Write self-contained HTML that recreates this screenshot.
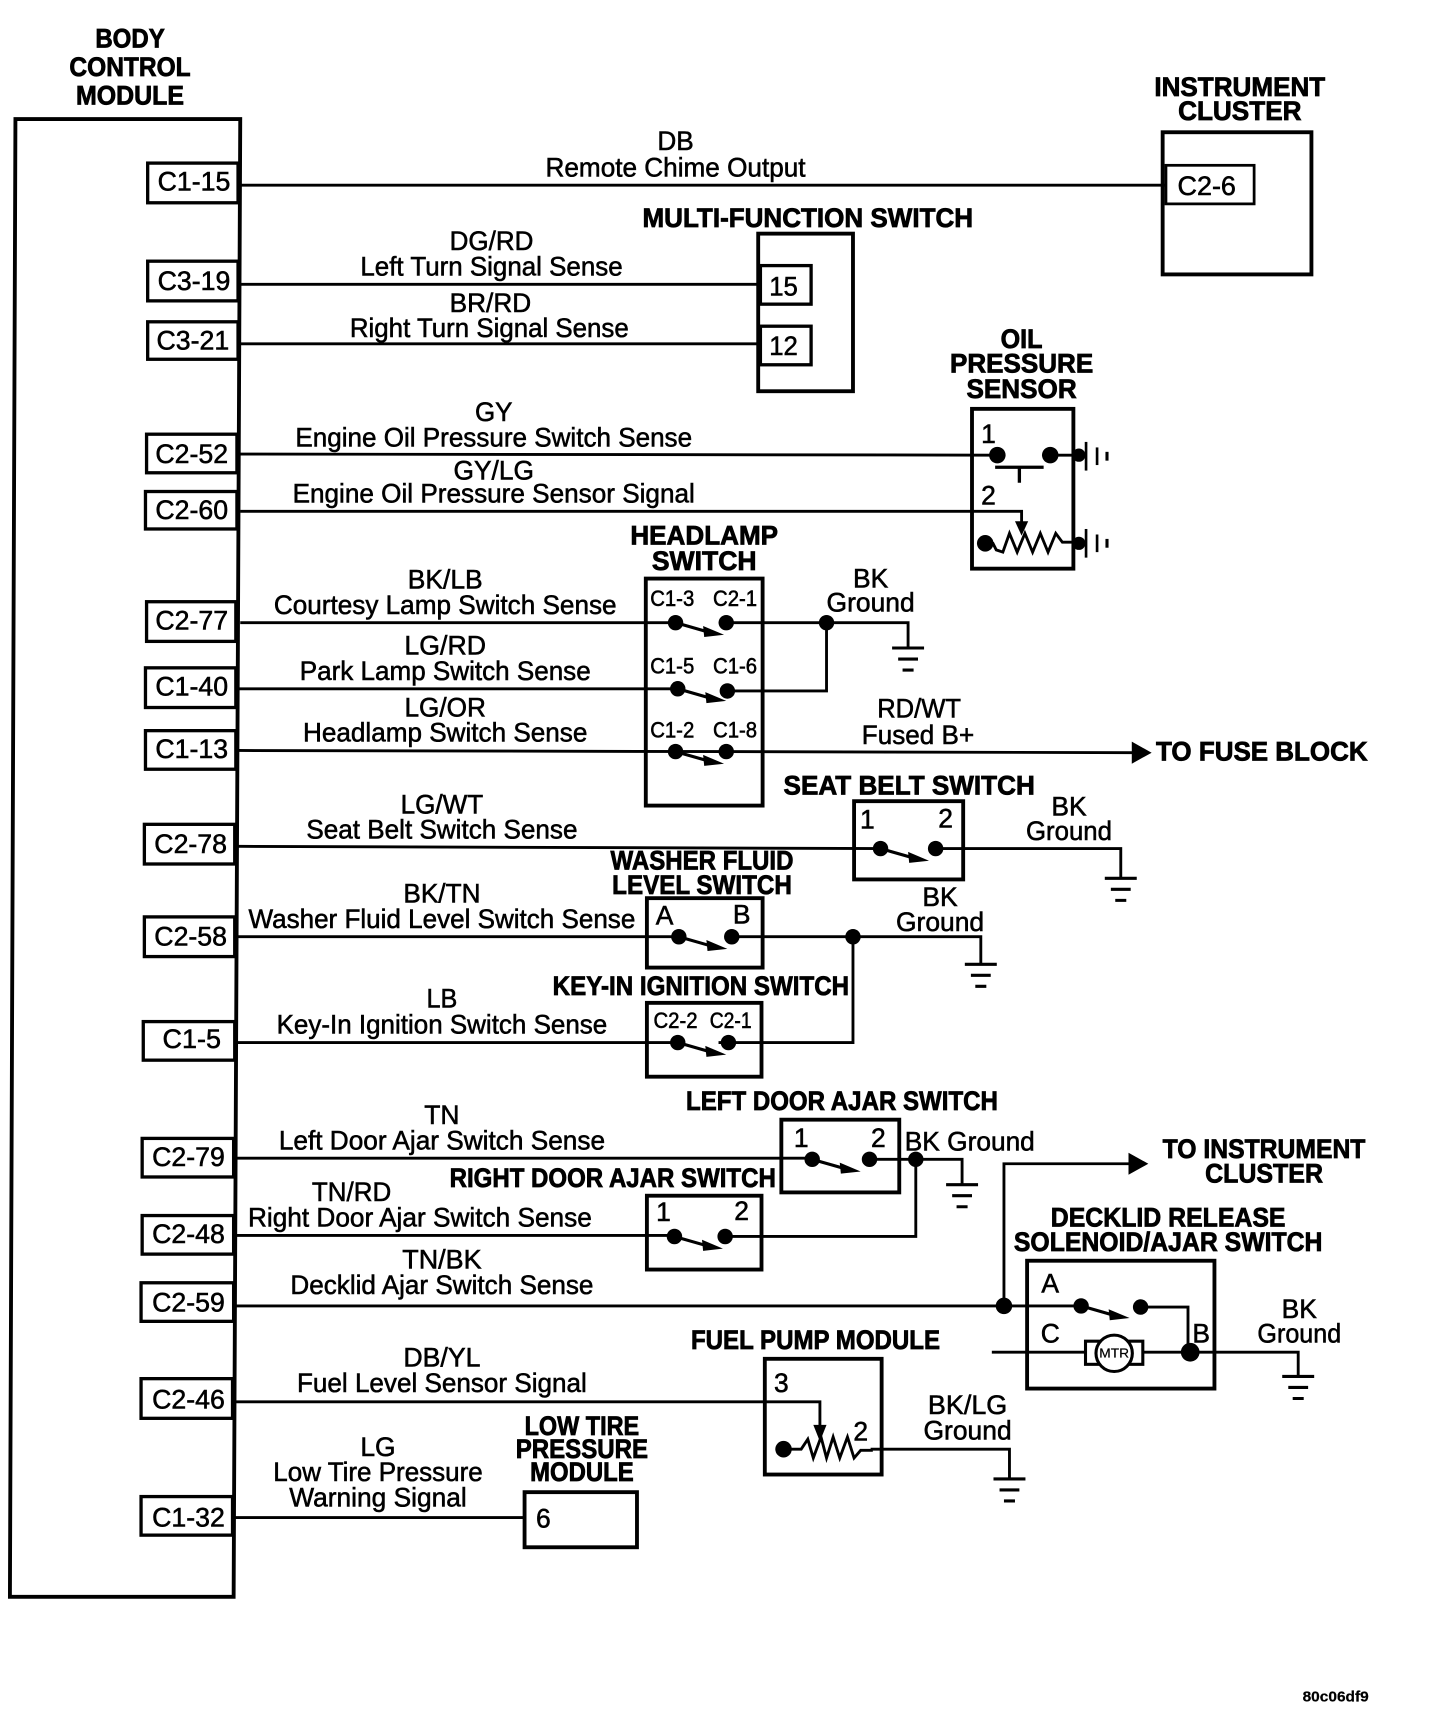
<!DOCTYPE html>
<html><head><meta charset="utf-8"><style>
html,body{margin:0;padding:0;background:#fff}
svg{display:block}
text{font-family:"Liberation Sans",sans-serif;font-size:24px;text-anchor:middle;fill:#000;stroke:#000;stroke-width:.5px}
.b{font-weight:bold;stroke-width:.7px}
.s{font-size:20px}
.m{font-size:12px;stroke-width:.2px}
.t{font-size:13px;font-weight:bold;stroke-width:.2px}
.w{fill:none;stroke:#000;stroke-width:2.6}
.x{fill:#fff;stroke:#000;stroke-width:3.5}
.d{fill:#000}
</style></head><body>
<svg xmlns="http://www.w3.org/2000/svg" width="1440" height="1728" viewBox="0 0 1306.67 1568">
<defs>
<g id="g"><path d="M-14.5 0H14.5M-9 10H9M-5 20H5" fill="none" stroke="#000" stroke-width="2.8"/></g>
<g id="a"><path d="M0 0L28 8" stroke="#000" stroke-width="2.8"/><path d="M25 3L44 11L26 13Z" fill="#000"/></g>
<g id="e"><path d="M0 -13V13" stroke="#000" stroke-width="2.4" fill="none"/><path d="M10 -8V8" stroke="#000" stroke-width="2.4"/><path d="M19 -4V4" stroke="#000" stroke-width="2.8"/></g>
</defs>

<path class="x" d="M14 108H218L212 1449H9Z"/>
<g class="w">
<path d="M218 168H1058M218 258H690M218 312H690"/>
<path d="M218 412L905 413M953 413H985M218 464H927V476"/>
<path d="M218 565H613M659 565H824V588M750 565V627H660"/>
<path d="M217 625H615M216 681L659 682L1030 683"/>
<path d="M216 768L799 770M849 770H1017V797"/>
<path d="M214 850H616M664 850H890V874M774 850V946H652M214 946H615"/>
<path d="M214 1051H737M789 1052H873V1075M831 1052V1122H658M214 1121H612"/>
<path d="M214 1185H981M911 1185V1056H1028M1035 1186H1078V1227"/>
<path d="M900 1227H985M1037 1227H1178V1248"/>
<path d="M214 1272H744V1296M790 1315H916V1342M213 1377H476"/>
</g>

<!-- connector boxes -->
<g class="x" style="stroke-width:3">
<rect x="134" y="148" width="82" height="36"/>
<rect x="134" y="237" width="82" height="36"/>
<rect x="134" y="292" width="82" height="34"/>
<rect x="133" y="394" width="82" height="35"/>
<rect x="132" y="446" width="83" height="34"/>
<rect x="133" y="546" width="81" height="36"/>
<rect x="132" y="606" width="82" height="36"/>
<rect x="132" y="663" width="82" height="35"/>
<rect x="131" y="748" width="82" height="36"/>
<rect x="131" y="832" width="82" height="36"/>
<rect x="130" y="927" width="83" height="35"/>
<rect x="129" y="1033" width="83" height="35"/>
<rect x="129" y="1103" width="83" height="35"/>
<rect x="128" y="1164" width="84" height="35"/>
<rect x="128" y="1251" width="83" height="36"/>
<rect x="128" y="1358" width="83" height="35"/>
</g>

<!-- component boxes -->
<g fill="none" stroke="#000" stroke-width="3.5">
<rect x="1055" y="120" width="135" height="129"/>
<rect x="1058" y="150" width="80" height="35" stroke-width="2.5"/>
<rect x="688" y="212" width="86" height="143"/>
<rect x="690" y="241" width="46" height="35" stroke-width="3"/>
<rect x="690" y="296" width="46" height="35" stroke-width="3"/>
<rect x="882" y="371" width="92" height="145"/>
<rect x="586" y="525" width="106" height="206"/>
<rect x="775" y="727" width="99" height="71"/>
<rect x="587" y="815" width="105" height="63"/>
<rect x="587" y="910" width="104" height="67"/>
<rect x="709" y="1016" width="107" height="66"/>
<rect x="587" y="1085" width="104" height="67"/>
<rect x="932" y="1144" width="170" height="116"/>
<rect x="694" y="1233" width="106" height="105"/>
<rect x="476" y="1354" width="102" height="50"/>
</g>

<!-- dots -->
<g class="d">
<circle cx="905" cy="413" r="7.5"/><circle cx="953" cy="413" r="7.5"/><circle cx="979" cy="413" r="6"/>
<circle cx="894" cy="493" r="7.5"/><circle cx="979" cy="493" r="6"/>
<circle cx="613" cy="565" r="7"/><circle cx="659" cy="565" r="7"/><circle cx="750" cy="565" r="7"/>
<circle cx="615" cy="625" r="7"/><circle cx="660" cy="627" r="7"/>
<circle cx="613" cy="682" r="7"/><circle cx="659" cy="682" r="7"/>
<circle cx="799" cy="770" r="7"/><circle cx="849" cy="770" r="7"/>
<circle cx="616" cy="850" r="7"/><circle cx="664" cy="850" r="7"/><circle cx="774" cy="850" r="7"/>
<circle cx="615" cy="946" r="7"/><circle cx="661" cy="946" r="7"/>
<circle cx="737" cy="1052" r="7"/><circle cx="789" cy="1052" r="7"/><circle cx="831" cy="1052" r="7"/>
<circle cx="612" cy="1122" r="7"/><circle cx="658" cy="1122" r="7"/>
<circle cx="911" cy="1185" r="7.5"/><circle cx="981" cy="1185" r="7"/><circle cx="1035" cy="1186" r="7"/><circle cx="1080" cy="1227" r="8.5"/>
<circle cx="711" cy="1315" r="7.5"/>
<path d="M1027 673L1045 683L1027 693Z"/>
<path d="M1024 1046L1042 1056L1024 1066Z"/>
<path d="M921 473H933L927 486Z"/>
<path d="M738 1293H750L744 1308Z"/>
</g>

<!-- switch arms -->
<use href="#a" x="613" y="565"/><use href="#a" x="615" y="625"/><use href="#a" x="613" y="682"/>
<use href="#a" x="799" y="770"/><use href="#a" x="616" y="850"/><use href="#a" x="615" y="946"/>
<use href="#a" x="737" y="1052"/><use href="#a" x="612" y="1122"/><use href="#a" x="981" y="1185"/>

<!-- grounds -->
<use href="#g" x="824" y="588"/><use href="#g" x="1017" y="797"/><use href="#g" x="890" y="875"/>
<use href="#g" x="873" y="1075"/><use href="#g" x="1178" y="1249"/><use href="#g" x="916" y="1342"/>
<use href="#e" x="985.5" y="414"/><use href="#e" x="985.5" y="493"/>

<!-- oil sensor detail -->
<path d="M903 424H947M925 424V438" fill="none" stroke="#000" stroke-width="3"/>
<path class="w" d="M894 493H901L904 499L910 501L916 484L923 501L930 484L937 501L944 484L951 501L958 484L964 492H975"/>
<!-- fuel resistor -->
<path class="w" d="M711 1315H727L733 1306L738 1323L745 1304L750 1323L756 1304L762 1323L769 1304L775 1323L781 1316H792"/>
<!-- motor -->
<rect x="985" y="1217" width="52" height="21" fill="#fff" stroke="#000" stroke-width="2.8"/>
<circle cx="1011" cy="1228" r="16.5" fill="#fff" stroke="#000" stroke-width="2.8"/>

<!-- titles -->
<text lengthAdjust="spacingAndGlyphs" class="b" x="118" y="43" textLength="63">BODY</text>
<text lengthAdjust="spacingAndGlyphs" class="b" x="118" y="69" textLength="110">CONTROL</text>
<text lengthAdjust="spacingAndGlyphs" class="b" x="118" y="95" textLength="98">MODULE</text>
<text lengthAdjust="spacingAndGlyphs" class="b" x="1125" y="87" textLength="155">INSTRUMENT</text>
<text lengthAdjust="spacingAndGlyphs" class="b" x="1125" y="109" textLength="112">CLUSTER</text>
<text lengthAdjust="spacingAndGlyphs" class="b" x="733" y="206" textLength="300">MULTI-FUNCTION SWITCH</text>
<text lengthAdjust="spacingAndGlyphs" class="b" x="927" y="316" textLength="38">OIL</text>
<text lengthAdjust="spacingAndGlyphs" class="b" x="927" y="338" textLength="130">PRESSURE</text>
<text lengthAdjust="spacingAndGlyphs" class="b" x="927" y="361" textLength="100">SENSOR</text>
<text lengthAdjust="spacingAndGlyphs" class="b" x="639" y="494" textLength="134">HEADLAMP</text>
<text lengthAdjust="spacingAndGlyphs" class="b" x="639" y="517" textLength="95">SWITCH</text>
<text lengthAdjust="spacingAndGlyphs" class="b" x="1145" y="690" textLength="192">TO FUSE BLOCK</text>
<text lengthAdjust="spacingAndGlyphs" class="b" x="825" y="721" textLength="228">SEAT BELT SWITCH</text>
<text lengthAdjust="spacingAndGlyphs" class="b" x="637" y="789" textLength="166">WASHER FLUID</text>
<text lengthAdjust="spacingAndGlyphs" class="b" x="637" y="811" textLength="163">LEVEL SWITCH</text>
<text lengthAdjust="spacingAndGlyphs" class="b" x="636" y="903" textLength="269">KEY-IN IGNITION SWITCH</text>
<text lengthAdjust="spacingAndGlyphs" class="b" x="764" y="1007" textLength="283">LEFT DOOR AJAR SWITCH</text>
<text lengthAdjust="spacingAndGlyphs" class="b" x="1147" y="1051" textLength="184">TO INSTRUMENT</text>
<text lengthAdjust="spacingAndGlyphs" class="b" x="1147" y="1073" textLength="107">CLUSTER</text>
<text lengthAdjust="spacingAndGlyphs" class="b" x="556" y="1077" textLength="296">RIGHT DOOR AJAR SWITCH</text>
<text lengthAdjust="spacingAndGlyphs" class="b" x="1060" y="1113" textLength="213">DECKLID RELEASE</text>
<text lengthAdjust="spacingAndGlyphs" class="b" x="1060" y="1135" textLength="280">SOLENOID/AJAR SWITCH</text>
<text lengthAdjust="spacingAndGlyphs" class="b" x="740" y="1224" textLength="226">FUEL PUMP MODULE</text>
<text lengthAdjust="spacingAndGlyphs" class="b" x="528" y="1302" textLength="104">LOW TIRE</text>
<text lengthAdjust="spacingAndGlyphs" class="b" x="528" y="1323" textLength="120">PRESSURE</text>
<text lengthAdjust="spacingAndGlyphs" class="b" x="528" y="1344" textLength="94">MODULE</text>

<!-- connector labels -->
<text lengthAdjust="spacingAndGlyphs" x="176" y="173" textLength="66">C1-15</text>
<text lengthAdjust="spacingAndGlyphs" x="176" y="263" textLength="66">C3-19</text>
<text lengthAdjust="spacingAndGlyphs" x="175" y="317" textLength="66">C3-21</text>
<text lengthAdjust="spacingAndGlyphs" x="174" y="420" textLength="66">C2-52</text>
<text lengthAdjust="spacingAndGlyphs" x="174" y="471" textLength="66">C2-60</text>
<text lengthAdjust="spacingAndGlyphs" x="174" y="571" textLength="66">C2-77</text>
<text lengthAdjust="spacingAndGlyphs" x="174" y="631" textLength="66">C1-40</text>
<text lengthAdjust="spacingAndGlyphs" x="174" y="688" textLength="66">C1-13</text>
<text lengthAdjust="spacingAndGlyphs" x="173" y="774" textLength="66">C2-78</text>
<text lengthAdjust="spacingAndGlyphs" x="173" y="858" textLength="66">C2-58</text>
<text lengthAdjust="spacingAndGlyphs" x="174" y="951" textLength="53">C1-5</text>
<text lengthAdjust="spacingAndGlyphs" x="171" y="1058" textLength="66">C2-79</text>
<text lengthAdjust="spacingAndGlyphs" x="171" y="1128" textLength="66">C2-48</text>
<text lengthAdjust="spacingAndGlyphs" x="171" y="1190" textLength="66">C2-59</text>
<text lengthAdjust="spacingAndGlyphs" x="171" y="1278" textLength="66">C2-46</text>
<text lengthAdjust="spacingAndGlyphs" x="171" y="1385" textLength="66">C1-32</text>
<text lengthAdjust="spacingAndGlyphs" x="1095" y="177" textLength="53">C2-6</text>
<text lengthAdjust="spacingAndGlyphs" x="711" y="268" textLength="26">15</text>
<text lengthAdjust="spacingAndGlyphs" x="711" y="322" textLength="26">12</text>

<!-- wire labels -->
<text lengthAdjust="spacingAndGlyphs" x="613" y="136" textLength="33">DB</text>
<text lengthAdjust="spacingAndGlyphs" x="613" y="160" textLength="236">Remote Chime Output</text>
<text lengthAdjust="spacingAndGlyphs" x="446" y="227" textLength="76">DG/RD</text>
<text lengthAdjust="spacingAndGlyphs" x="446" y="250" textLength="238">Left Turn Signal Sense</text>
<text lengthAdjust="spacingAndGlyphs" x="445" y="283" textLength="74">BR/RD</text>
<text lengthAdjust="spacingAndGlyphs" x="444" y="306" textLength="253">Right Turn Signal Sense</text>
<text lengthAdjust="spacingAndGlyphs" x="448" y="382" textLength="34">GY</text>
<text lengthAdjust="spacingAndGlyphs" x="448" y="405" textLength="360">Engine Oil Pressure Switch Sense</text>
<text lengthAdjust="spacingAndGlyphs" x="448" y="435" textLength="73">GY/LG</text>
<text lengthAdjust="spacingAndGlyphs" x="448" y="456" textLength="365">Engine Oil Pressure Sensor Signal</text>
<text x="897" y="402">1</text>
<text x="897" y="458">2</text>
<text lengthAdjust="spacingAndGlyphs" x="404" y="534" textLength="68">BK/LB</text>
<text lengthAdjust="spacingAndGlyphs" x="404" y="557" textLength="311">Courtesy Lamp Switch Sense</text>
<text lengthAdjust="spacingAndGlyphs" x="404" y="594" textLength="74">LG/RD</text>
<text lengthAdjust="spacingAndGlyphs" x="404" y="617" textLength="264">Park Lamp Switch Sense</text>
<text lengthAdjust="spacingAndGlyphs" x="404" y="650" textLength="74">LG/OR</text>
<text lengthAdjust="spacingAndGlyphs" x="404" y="673" textLength="258">Headlamp Switch Sense</text>
<text lengthAdjust="spacingAndGlyphs" class="s" x="610" y="550" textLength="40">C1-3</text>
<text lengthAdjust="spacingAndGlyphs" class="s" x="667" y="550" textLength="40">C2-1</text>
<text lengthAdjust="spacingAndGlyphs" class="s" x="610" y="611" textLength="40">C1-5</text>
<text lengthAdjust="spacingAndGlyphs" class="s" x="667" y="611" textLength="40">C1-6</text>
<text lengthAdjust="spacingAndGlyphs" class="s" x="610" y="669" textLength="40">C1-2</text>
<text lengthAdjust="spacingAndGlyphs" class="s" x="667" y="669" textLength="40">C1-8</text>
<text lengthAdjust="spacingAndGlyphs" x="790" y="533" textLength="32">BK</text>
<text lengthAdjust="spacingAndGlyphs" x="790" y="555" textLength="80">Ground</text>
<text lengthAdjust="spacingAndGlyphs" x="834" y="651" textLength="76">RD/WT</text>
<text lengthAdjust="spacingAndGlyphs" x="833" y="675" textLength="102">Fused B+</text>
<text x="787" y="752">1</text>
<text x="858" y="751">2</text>
<text lengthAdjust="spacingAndGlyphs" x="970" y="740" textLength="32">BK</text>
<text lengthAdjust="spacingAndGlyphs" x="970" y="762" textLength="78">Ground</text>
<text lengthAdjust="spacingAndGlyphs" x="401" y="738" textLength="75">LG/WT</text>
<text lengthAdjust="spacingAndGlyphs" x="401" y="761" textLength="246">Seat Belt Switch Sense</text>
<text lengthAdjust="spacingAndGlyphs" x="401" y="819" textLength="70">BK/TN</text>
<text lengthAdjust="spacingAndGlyphs" x="401" y="842" textLength="351">Washer Fluid Level Switch Sense</text>
<text x="603" y="839">A</text>
<text x="673" y="838">B</text>
<text lengthAdjust="spacingAndGlyphs" x="853" y="822" textLength="32">BK</text>
<text lengthAdjust="spacingAndGlyphs" x="853" y="845" textLength="80">Ground</text>
<text lengthAdjust="spacingAndGlyphs" x="401" y="914" textLength="28">LB</text>
<text lengthAdjust="spacingAndGlyphs" x="401" y="938" textLength="300">Key-In Ignition Switch Sense</text>
<text lengthAdjust="spacingAndGlyphs" class="s" x="613" y="933" textLength="40">C2-2</text>
<text lengthAdjust="spacingAndGlyphs" class="s" x="663" y="933" textLength="38">C2-1</text>
<text lengthAdjust="spacingAndGlyphs" x="401" y="1020" textLength="32">TN</text>
<text lengthAdjust="spacingAndGlyphs" x="401" y="1043" textLength="296">Left Door Ajar Switch Sense</text>
<text x="727" y="1041">1</text>
<text x="797" y="1041">2</text>
<text lengthAdjust="spacingAndGlyphs" x="880" y="1044" textLength="118">BK Ground</text>
<text lengthAdjust="spacingAndGlyphs" x="319" y="1090" textLength="72">TN/RD</text>
<text lengthAdjust="spacingAndGlyphs" x="381" y="1113" textLength="312">Right Door Ajar Switch Sense</text>
<text x="602" y="1108">1</text>
<text x="673" y="1107">2</text>
<text lengthAdjust="spacingAndGlyphs" x="401" y="1151" textLength="72">TN/BK</text>
<text lengthAdjust="spacingAndGlyphs" x="401" y="1174" textLength="275">Decklid Ajar Switch Sense</text>
<text x="953" y="1173">A</text>
<text x="953" y="1218">C</text>
<text x="1090" y="1218">B</text>
<text lengthAdjust="spacingAndGlyphs" class="m" x="1011" y="1232" textLength="27">MTR</text>
<text lengthAdjust="spacingAndGlyphs" x="1179" y="1196" textLength="32">BK</text>
<text lengthAdjust="spacingAndGlyphs" x="1179" y="1218" textLength="76">Ground</text>
<text lengthAdjust="spacingAndGlyphs" x="401" y="1240" textLength="70">DB/YL</text>
<text lengthAdjust="spacingAndGlyphs" x="401" y="1263" textLength="263">Fuel Level Sensor Signal</text>
<text x="709" y="1263">3</text>
<text x="781" y="1307">2</text>
<text lengthAdjust="spacingAndGlyphs" x="878" y="1283" textLength="72">BK/LG</text>
<text lengthAdjust="spacingAndGlyphs" x="878" y="1306" textLength="80">Ground</text>
<text lengthAdjust="spacingAndGlyphs" x="343" y="1321" textLength="32">LG</text>
<text lengthAdjust="spacingAndGlyphs" x="343" y="1344" textLength="190">Low Tire Pressure</text>
<text lengthAdjust="spacingAndGlyphs" x="343" y="1367" textLength="161">Warning Signal</text>
<text x="493" y="1386">6</text>
<text lengthAdjust="spacingAndGlyphs" class="t" x="1212" y="1544" textLength="60">80c06df9</text>
</svg>
</body></html>
